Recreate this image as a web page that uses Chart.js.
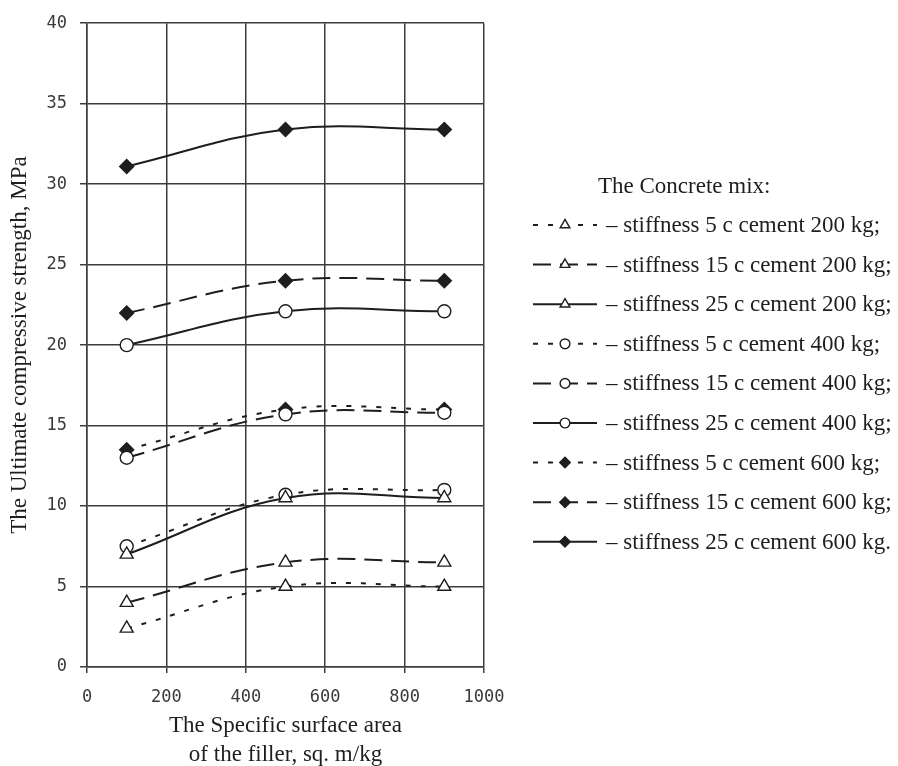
<!DOCTYPE html>
<html>
<head>
<meta charset="utf-8">
<script src="https://cdn.jsdelivr.net/npm/chart.js"></script>
<style>
  html, body { margin: 0; padding: 0; background: #fff; }
  canvas { display: block; }
</style>
</head>
<body>
<canvas id="chart" width="898" height="766"></canvas>
<script>
const surfaceArea = [100, 500, 900];

const stiff5c200 = [2.4, 5.0, 5.0];
const stiff15c200 = [4.0, 6.5, 6.5];
const stiff25c200 = [7.0, 10.5, 10.5];
const stiff5c400 = [7.5, 10.7, 11.0];
const stiff15c400 = [13.0, 15.7, 15.8];
const stiff25c400 = [20.0, 22.1, 22.1];
const stiff5c600 = [13.5, 16.0, 16.0];
const stiff15c600 = [22.0, 24.0, 24.0];
const stiff25c600 = [31.1, 33.4, 33.4];

const seriesLabels = [
  "– stiffness 5 c cement 200 kg;",
  "– stiffness 15 c cement 200 kg;",
  "– stiffness 25 c cement 200 kg;",
  "– stiffness 5 c cement 400 kg;",
  "– stiffness 15 c cement 400 kg;",
  "– stiffness 25 c cement 400 kg;",
  "– stiffness 5 c cement 600 kg;",
  "– stiffness 15 c cement 600 kg;",
  "– stiffness 25 c cement 600 kg.",
];

const legendTitle = "The Concrete mix:";
const xTitle = ["The Specific surface area", "of the filler, sq. m/kg"];
const yTitle = "The Ultimate compressive strength, MPa";

const ink = "#1e1e1e";
const gridColor = "#3c3c3c";
const serif = "'Liberation Serif', 'Times New Roman', serif";
const mono = "'DejaVu Sans Mono', monospace";

const dotted = [5, 10];
const dashed = [18, 9];

function toPoints(values) {
  return values.map((v, i) => ({ x: surfaceArea[i], y: v }));
}

function makeSeries(label, values, dash, marker) {
  const filled = marker === "rectRot";
  let r = 6.5;
  if (marker === "triangle") r = 7.5;
  if (marker === "rectRot") r = 7;
  return {
    label: label,
    data: toPoints(values),
    borderColor: ink,
    borderWidth: 2,
    borderDash: dash,
    tension: 0.4,
    fill: false,
    pointStyle: marker,
    pointRadius: r,
    pointBorderWidth: 1.4,
    pointBorderColor: ink,
    pointBackgroundColor: filled ? ink : "#fff",
  };
}

// legend drawn by hand so the samples show line dash + marker together
const legendPlugin = {
  id: "mixLegend",
  afterDraw(chart) {
    const ctx = chart.ctx;
    ctx.save();
    ctx.fillStyle = ink;
    ctx.font = "23px " + serif;
    ctx.textBaseline = "middle";
    ctx.textAlign = "left";
    ctx.fillText(legendTitle, 598, 187);

    chart.data.datasets.forEach((ds, i) => {
      const y = 225 + i * 39.6;
      ctx.strokeStyle = ink;
      ctx.lineWidth = 2;
      ctx.setLineDash(ds.borderDash || []);
      ctx.beginPath();
      ctx.moveTo(533, y);
      ctx.lineTo(597, y);
      ctx.stroke();
      ctx.setLineDash([]);
      drawMarker(ctx, ds, 565, y, 0.75);
      ctx.fillStyle = ink;
      ctx.fillText(ds.label, 606, y + 1);
    });
    ctx.restore();
  },
};

function drawMarker(ctx, ds, x, y, scale) {
  const r = ds.pointRadius * scale;
  ctx.beginPath();
  if (ds.pointStyle === "triangle") {
    ctx.moveTo(x, y - r);
    ctx.lineTo(x + r * 0.866, y + r * 0.5);
    ctx.lineTo(x - r * 0.866, y + r * 0.5);
    ctx.closePath();
  } else if (ds.pointStyle === "rectRot") {
    ctx.moveTo(x, y - r);
    ctx.lineTo(x + r, y);
    ctx.lineTo(x, y + r);
    ctx.lineTo(x - r, y);
    ctx.closePath();
  } else {
    ctx.arc(x, y, r, 0, Math.PI * 2);
  }
  ctx.fillStyle = ds.pointBackgroundColor;
  ctx.fill();
  ctx.lineWidth = ds.pointBorderWidth;
  ctx.strokeStyle = ds.pointBorderColor;
  ctx.stroke();
}

const datasets = [
  makeSeries(seriesLabels[0], stiff5c200, dotted, "triangle"),
  makeSeries(seriesLabels[1], stiff15c200, dashed, "triangle"),
  makeSeries(seriesLabels[2], stiff25c200, [], "triangle"),
  makeSeries(seriesLabels[3], stiff5c400, dotted, "circle"),
  makeSeries(seriesLabels[4], stiff15c400, dashed, "circle"),
  makeSeries(seriesLabels[5], stiff25c400, [], "circle"),
  makeSeries(seriesLabels[6], stiff5c600, dotted, "rectRot"),
  makeSeries(seriesLabels[7], stiff15c600, dashed, "rectRot"),
  makeSeries(seriesLabels[8], stiff25c600, [], "rectRot"),
];

new Chart(document.getElementById("chart"), {
  type: "line",
  data: { datasets: datasets },
  options: {
    responsive: false,
    animation: false,
    layout: {
      padding: { left: 0, top: 19, right: 414, bottom: 0 },
    },
    scales: {
      x: {
        type: "linear",
        min: 0,
        max: 1000,
        afterFit: (scale) => {
          scale.height = 99;
        },
        ticks: {
          stepSize: 200,
          color: "#3a3a3a",
          padding: 14,
          maxRotation: 0,
          font: { family: mono, size: 17 },
          callback: (value) => String(value),
        },
        grid: {
          color: gridColor,
          lineWidth: 1.5,
          tickLength: 6,
        },
        border: { color: gridColor, width: 1.5 },
        title: {
          display: true,
          text: xTitle,
          color: ink,
          font: { family: serif, size: 23, lineHeight: 1.27 },
          padding: { top: 0, bottom: -4 },
        },
      },
      y: {
        min: 0,
        max: 40,
        afterFit: (scale) => {
          scale.width = 87;
        },
        ticks: {
          stepSize: 5,
          color: "#3a3a3a",
          padding: 13,
          font: { family: mono, size: 17 },
        },
        grid: {
          color: gridColor,
          lineWidth: 1.5,
          tickLength: 7,
        },
        border: { color: gridColor, width: 1.5 },
        title: {
          display: true,
          text: yTitle,
          color: ink,
          font: { family: serif, size: 23 },
          padding: { top: 6, bottom: 0 },
        },
      },
    },
    plugins: {
      legend: { display: false },
      tooltip: { enabled: false },
    },
  },
  plugins: [legendPlugin],
});
</script>
</body>
</html>
